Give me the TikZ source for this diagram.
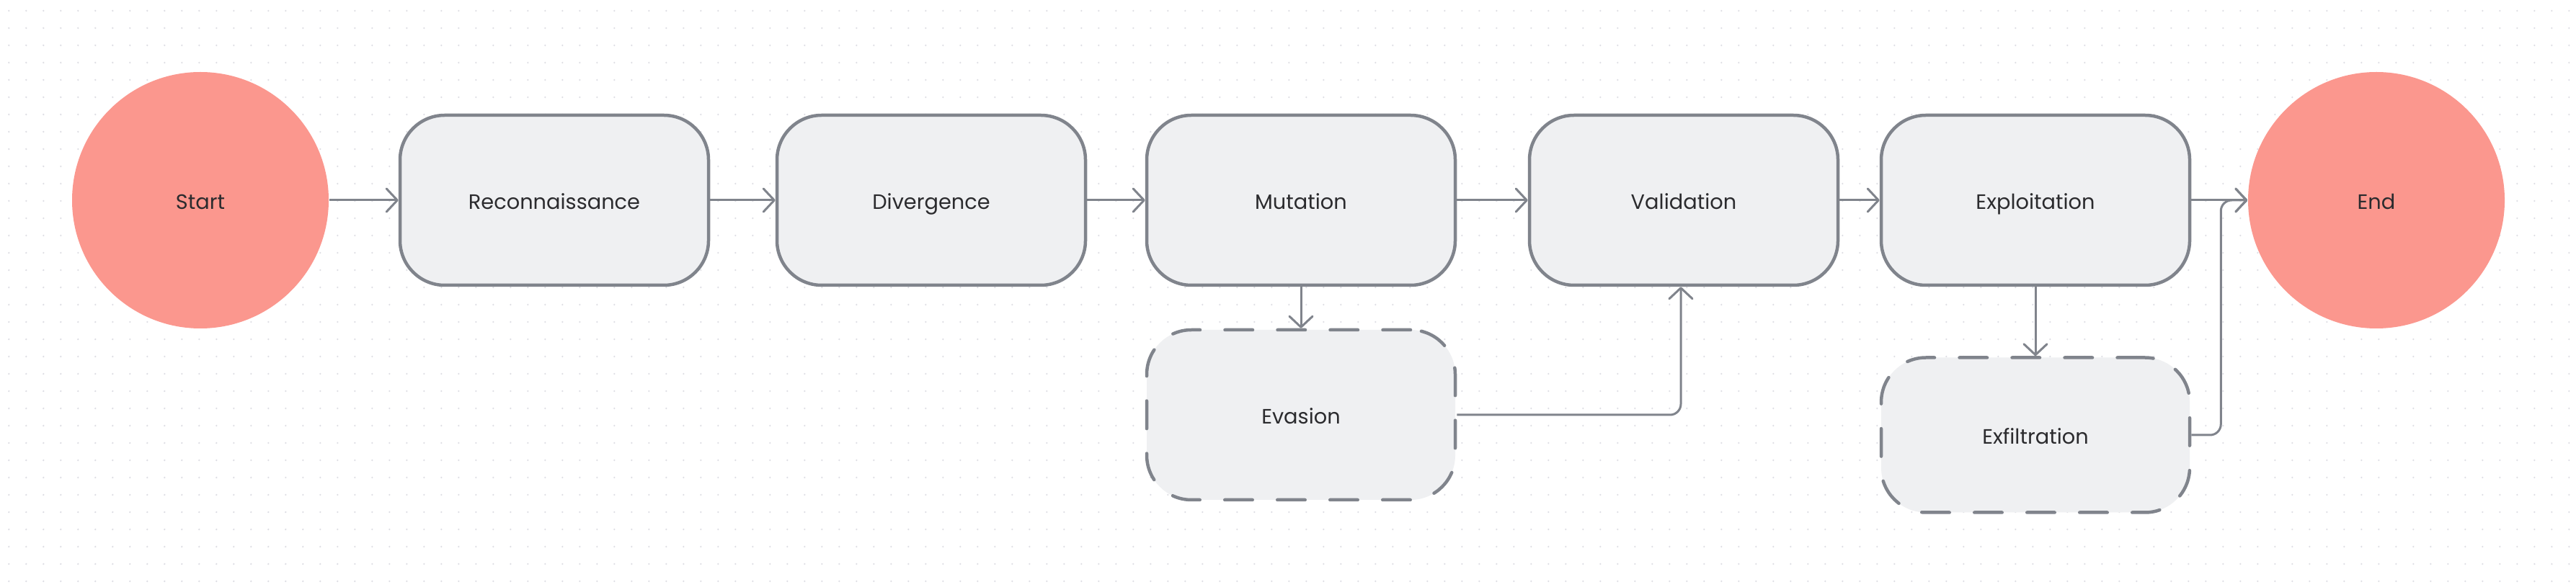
\documentclass[tikz,border=0pt]{standalone}
\usepackage{fontspec}
\setmainfont{Poppins}
\usetikzlibrary{arrows.meta}

\definecolor{dotgray}{HTML}{DEDEE4}
\definecolor{salmon}{HTML}{FB978E}
\definecolor{boxfill}{HTML}{EFF0F2}
\definecolor{edgegray}{HTML}{80848C}
\definecolor{ink}{HTML}{2B2B2E}

\begin{document}
\begin{tikzpicture}[
    font=\fontsize{8.2}{10}\selectfont, text=ink,
    every node/.style={text height=0.7em, text depth=0pt},
    terminal/.style={circle, fill=salmon, minimum size=3.56cm, inner sep=0pt},
    stage/.style={rectangle, rounded corners=0.62cm, draw=edgegray, line width=0.045cm,
                  fill=boxfill, minimum width=4.28cm, minimum height=2.36cm, inner sep=0pt},
    optional/.style={stage, dash pattern=on 0.385cm off 0.345cm, line cap=round},
    link/.style={draw=edgegray, line width=0.03cm,
                 -{Straight Barb[length=1.5mm, width=3.2mm, round]}}
  ]
  \useasboundingbox (0, 0) rectangle (35.74, 8.14);
  \fill[white] (0, 0) rectangle (35.74, 8.14);

  % dotted canvas
  \foreach \j in {0,...,33} {
    \fill[dotgray] \foreach \i in {0,...,148} {(0.123+0.24*\i, 7.99-0.24*\j) circle (0.013)};
  }

  \node (start) at ( 2.78, 5.36) [terminal] {Start};
  \node (recon) at ( 7.69, 5.36) [stage] {Reconnaissance};
  \node (diver) at (12.92, 5.36) [stage] {Divergence};
  \node (mutat) at (18.05, 5.36) [stage] {Mutation};
  \node (valid) at (23.36, 5.36) [stage] {Validation};
  \node (explo) at (28.24, 5.36) [stage] {Exploitation};
  \node (end)   at (32.97, 5.36) [terminal] {End};

  \node (evasi) at (18.05, 2.38) [optional] {Evasion};
  \node (exfil) at (28.24, 2.10) [optional, minimum height=2.15cm] {Exfiltration};

  \draw[link] (start) -- (recon);
  \draw[link] (recon) -- (diver);
  \draw[link] (diver) -- (mutat);
  \draw[link] (mutat) -- (valid);
  \draw[link] (valid) -- (explo);
  \draw[link] (explo) -- (end);

  \draw[link] (mutat) -- (evasi);
  \draw[link] (explo) -- (exfil);
  \draw[link, rounded corners=0.15cm] (evasi.east) -| ([xshift=-0.04cm]valid.south);
  \draw[link, rounded corners=0.15cm] (exfil.east) -- ++(0.41, 0) |- (end.west);
\end{tikzpicture}
\end{document}
